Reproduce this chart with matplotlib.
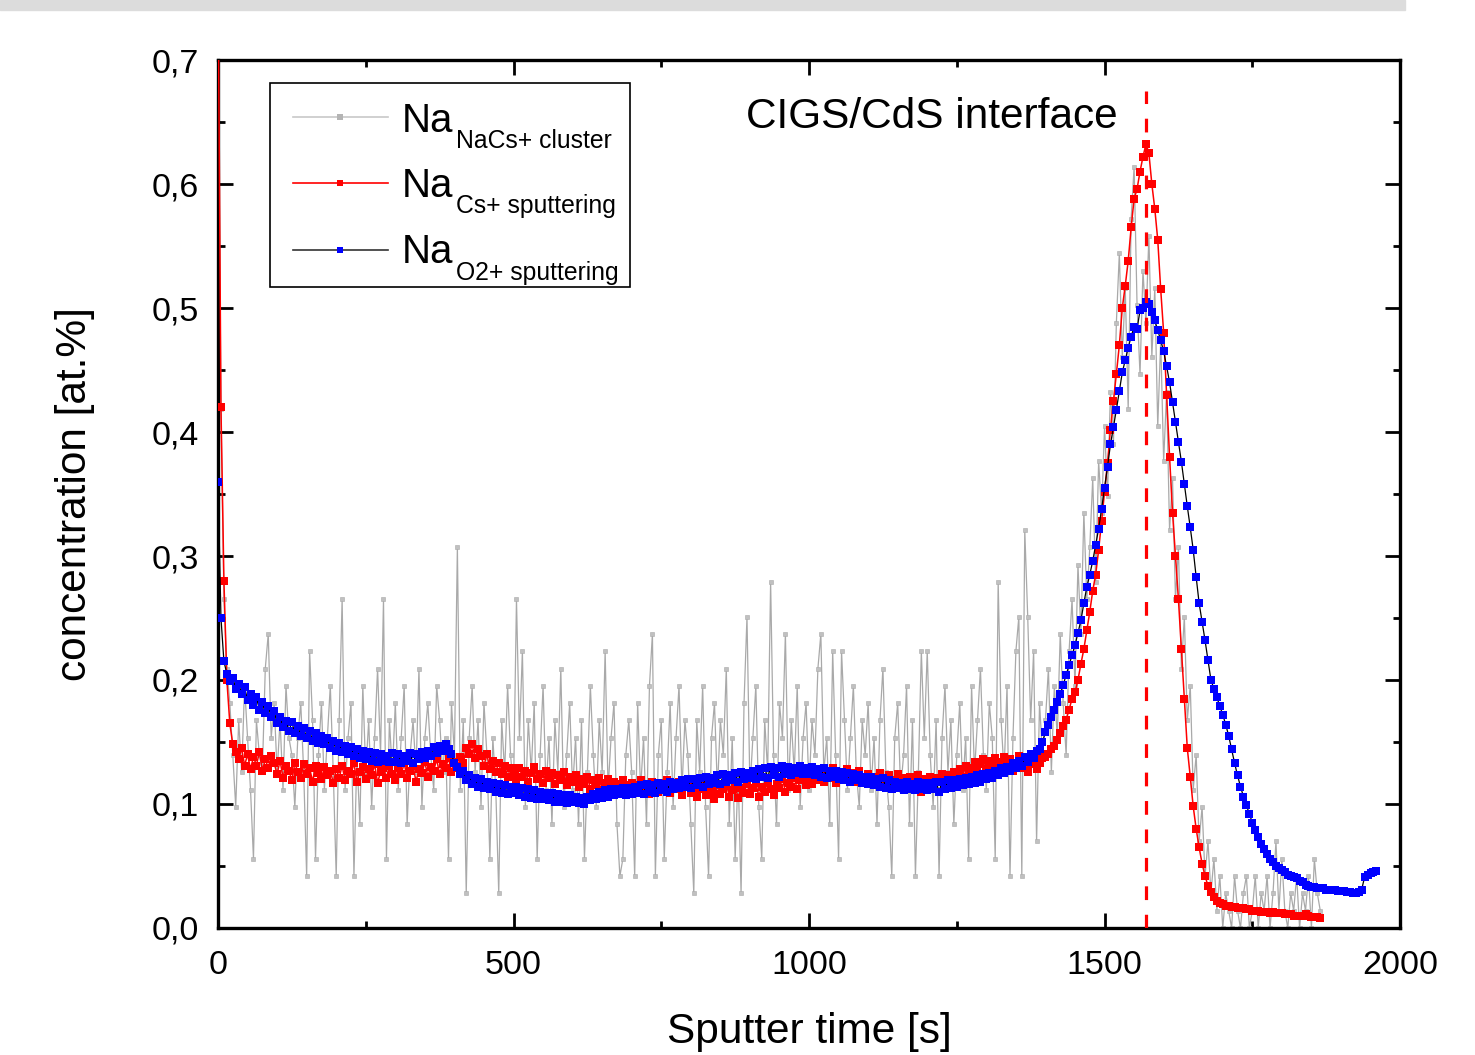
import numpy as np
import matplotlib
matplotlib.use("Agg")
import matplotlib.pyplot as plt
from matplotlib.patches import Rectangle
from matplotlib.ticker import MultipleLocator, FuncFormatter

plt.rcParams['font.family'] = ['Liberation Sans', 'DejaVu Sans']

# sampling grid (s)
step = 5
gray_time = np.arange(0, 1866, step)
red_time = np.arange(0, 1866, step)
blue_time = np.arange(0, 1961, step)

# Na from NaCs+ clusters, quantised levels (1 level = 0.01395 at.%)
level = 0.01395
gray_levels = [
    52, 30, 19, 15, 13, 10, 7, 12, 9, 14, 11, 8, 4, 12, 10, 9, 15, 17, 11, 13,
    9, 12, 8, 14, 11, 10, 7, 11, 13, 9, 3, 16, 12, 4, 10, 13, 8, 11, 14, 9,
    3, 12, 19, 8, 11, 13, 3, 10, 6, 14, 9, 12, 7, 11, 15, 10, 19, 4, 12, 9,
    13, 8, 11, 14, 6, 10, 12, 9, 15, 7, 11, 13, 10, 8, 14, 12, 9, 11, 4, 13,
    10, 22, 8, 12, 2, 11, 14, 9, 12, 7, 13, 10, 4, 11, 8, 2, 12, 9, 14, 10,
    8, 19, 11, 16, 7, 12, 9, 13, 4, 10, 14, 8, 11, 6, 12, 9, 15, 7, 10, 13,
    8, 11, 6, 12, 4, 9, 14, 10, 7, 12, 9, 16, 8, 11, 13, 6, 3, 4, 10, 12,
    9, 3, 13, 8, 11, 6, 14, 17, 3, 10, 12, 4, 9, 13, 7, 11, 14, 8, 12, 10,
    6, 2, 12, 9, 14, 7, 3, 11, 13, 8, 12, 10, 15, 6, 11, 4, 9, 2, 13, 18,
    8, 11, 14, 7, 4, 12, 9, 20, 10, 6, 13, 11, 17, 8, 12, 9, 14, 7, 11, 13,
    8, 12, 10, 15, 17, 9, 11, 6, 16, 10, 4, 16, 12, 8, 11, 14, 9, 7, 12, 10,
    13, 8, 11, 6, 12, 15, 9, 7, 3, 11, 13, 8, 10, 14, 6, 12, 3, 9, 16, 11,
    16, 10, 7, 12, 3, 11, 14, 9, 12, 6, 10, 13, 8, 11, 4, 14, 9, 12, 15, 10,
    8, 13, 11, 4, 20, 12, 9, 14, 3, 11, 16, 18, 3, 23, 18, 12, 16, 5, 13, 10,
    12, 15, 9, 14, 11, 17, 13, 10, 16, 19, 14, 21, 17, 24, 19, 22, 26, 20, 27, 24,
    29, 25, 31, 28, 35, 39, 33, 37, 30, 41, 44, 36, 32, 38, 35, 40, 33, 37, 29, 34,
    27, 31, 23, 26, 19, 22, 15, 18, 12, 14, 8, 10, 5, 7, 3, 5, 2, 4, 1, 3,
    0, 2, 1, 0, 3, 1, 0, 2, 3, 0, 1, 3, 0, 2, 1, 3, 0, 2, 5, 1,
    4, 1, 0, 2, 1, 3, 0, 2, 1, 3, 0, 4, 2, 1,
]

# Na from Cs+ sputtering (x 0.001 at.%)
red_milli = [
    780, 420, 280, 200, 165, 148, 142, 136, 145, 131, 140, 128, 138, 131, 142, 127, 136, 129, 139, 133,
    124, 135, 121, 131, 127, 119, 133, 126, 121, 132, 124, 129, 118, 131, 125, 120, 130, 123, 127, 117,
    128, 121, 131, 119, 127, 124, 133, 118, 126, 130, 120, 128, 123, 132, 117, 126, 129, 121, 131, 124,
    119, 129, 124, 133, 121, 127, 131, 118, 128, 125, 134, 122, 130, 127, 136, 124, 132, 129, 137, 126,
    134, 129, 138, 133, 145, 140, 148, 137, 144, 139, 131, 140, 128, 135, 126, 133, 124, 131, 122, 129,
    126, 119, 129, 122, 127, 118, 125, 130, 120, 124, 117, 127, 121, 125, 116, 123, 119, 126, 115, 122,
    118, 123, 114, 120, 116, 122, 112, 119, 115, 121, 111, 117, 120, 113, 118, 110, 116, 119, 111, 115,
    117, 110, 115, 119, 111, 116, 108, 118, 113, 110, 117, 112, 119, 109, 115, 112, 118, 107, 114, 116,
    109, 114, 106, 112, 116, 107, 113, 110, 104, 115, 108, 112, 117, 106, 111, 114, 105, 113, 109, 116,
    108, 113, 117, 106, 114, 110, 118, 112, 107, 116, 113, 120, 110, 117, 114, 121, 112, 119, 123, 115,
    121, 116, 124, 119, 127, 118, 125, 121, 129, 117, 126, 122, 119, 128, 120, 125, 118, 127, 122, 120,
    124, 118, 122, 116, 125, 120, 114, 123, 119, 115, 124, 117, 121, 113, 122, 118, 116, 123, 110, 120,
    117, 122, 115, 121, 118, 124, 116, 123, 120, 126, 119, 128, 122, 131, 125, 129, 134, 127, 132, 136,
    128, 135, 131, 137, 129, 134, 138, 130, 136, 127, 133, 139, 129, 134, 126, 132, 135, 128, 133, 137,
    138, 140, 144, 147, 152, 157, 163, 168, 176, 185, 190, 200, 213, 225, 240, 255, 272, 285, 305, 328,
    352, 375, 402, 425, 447, 470, 500, 518, 538, 565, 588, 596, 610, 622, 632, 625, 600, 580, 555, 515,
    480, 430, 380, 335, 300, 265, 225, 185, 145, 122, 98, 80, 65, 52, 42, 34, 29, 25, 22, 20,
    19, 18, 18, 17, 17, 16, 16, 16, 15, 15, 14, 14, 14, 13, 13, 13, 12, 13, 12, 12,
    12, 11, 11, 11, 10, 10, 10, 10, 11, 10, 9, 9, 9, 8,
]

# Na from O2+ sputtering (x 0.001 at.%)
blue_milli = [
    360, 250, 215, 205, 199, 202, 193, 197, 189, 194, 184, 189, 180, 186, 176, 182, 173, 179, 170, 175,
    165, 170, 162, 167, 159, 166, 157, 163, 155, 161, 153, 159, 151, 157, 149, 155, 148, 153, 145, 151,
    143, 149, 142, 147, 140, 146, 139, 144, 137, 143, 136, 142, 135, 141, 134, 140, 135, 139, 134, 141,
    134, 140, 133, 139, 135, 141, 133, 140, 136, 142, 137, 143, 139, 146, 141, 147, 143, 148, 144, 140,
    133, 130, 124, 127, 119, 123, 116, 121, 114, 120, 113, 118, 112, 117, 110, 116, 109, 115, 108, 114,
    109, 114, 107, 113, 106, 112, 105, 111, 104, 110, 104, 109, 103, 109, 102, 108, 102, 107, 101, 107,
    102, 106, 101, 105, 100, 106, 103, 108, 104, 110, 105, 111, 106, 112, 107, 112, 108, 113, 107, 113,
    108, 114, 109, 115, 108, 116, 110, 115, 109, 117, 111, 116, 110, 118, 112, 117, 113, 119, 114, 120,
    113, 120, 115, 121, 114, 122, 116, 121, 117, 123, 116, 124, 118, 123, 119, 125, 118, 126, 120, 125,
    121, 127, 120, 128, 122, 129, 121, 130, 123, 129, 122, 131, 124, 130, 123, 129, 125, 131, 124, 129,
    124, 130, 123, 128, 122, 129, 121, 127, 122, 127, 120, 126, 119, 125, 118, 124, 119, 123, 117, 122,
    116, 122, 115, 120, 114, 121, 113, 119, 112, 118, 113, 117, 111, 118, 112, 116, 111, 118, 112, 117,
    111, 117, 112, 118, 110, 118, 112, 119, 113, 119, 114, 120, 115, 121, 116, 122, 117, 123, 118, 124,
    120, 125, 121, 127, 123, 129, 125, 130, 127, 133, 129, 135, 131, 138, 134, 140, 137, 143, 144, 150,
    158, 164, 170, 176, 182, 189, 196, 204, 212, 220, 228, 238, 248, 262, 275, 285, 296, 309, 322, 338,
    355, 372, 390, 404, 418, 433, 448, 458, 468, 477, 485, 483, 498, 500, 505, 503, 497, 490, 482, 474,
    465, 453, 440, 424, 408, 392, 376, 358, 340, 323, 305, 283, 262, 247, 232, 216, 200, 193, 186, 179,
    172, 164, 155, 144, 133, 123, 114, 106, 99, 92, 85, 79, 73, 68, 64, 60, 56, 53, 50, 48,
    47, 45, 43, 42, 41, 40, 38, 37, 35, 34, 33, 33, 32, 32, 32, 31, 31, 31, 31, 30,
    30, 30, 29, 29, 28, 28, 29, 31, 41, 43, 44, 45, 46,
]

interface_time = 1570
interface_top = 0.675

gray = np.array(gray_levels) * level
red = np.array(red_milli) / 1000.0
blue = np.array(blue_milli) / 1000.0

fig = plt.figure(figsize=(14.75, 10.55), dpi=100)
ax = fig.add_axes([0.1478, 0.1204, 0.8014, 0.8227])

# light grey band along the top of the image
fig.patches.append(Rectangle((0, 1 - 10 / 1055), 1405 / 1475, 10 / 1055,
                             transform=fig.transFigure, color="#dcdcdc", zorder=0))

ax.plot(gray_time, gray, "-", color="#a9a9a9", lw=0.9, marker="s", ms=3.0,
        mfc="#c0c0c0", mec="#a8a8a8", mew=0.4, zorder=2)
ax.plot(red_time, red, "-", color="red", lw=1.1, marker="s", ms=5.2,
        mfc="red", mec="red", mew=0, zorder=3)
ax.plot(blue_time, blue, "-", color="black", lw=0.9, marker="s", ms=5.2,
        mfc="blue", mec="blue", mew=0, zorder=4)

ax.plot([interface_time, interface_time], [0, interface_top], color="red",
        lw=2.3, dashes=(4.3, 4.6), zorder=5)

ax.text(1208, 0.654, "CIGS/CdS interface", fontsize=30.5, ha="center", va="center")

ax.set_xlim(0, 2000)
ax.set_ylim(0, 0.7)
ax.xaxis.set_major_locator(MultipleLocator(500))
ax.xaxis.set_minor_locator(MultipleLocator(250))
ax.yaxis.set_major_locator(MultipleLocator(0.1))
ax.yaxis.set_minor_locator(MultipleLocator(0.05))
ax.yaxis.set_major_formatter(FuncFormatter(lambda v, p: f"{v:.1f}".replace(".", ",")))

ax.tick_params(which="both", direction="in", top=True, right=True, width=2.0)
ax.tick_params(which="major", length=10.8)
ax.tick_params(which="minor", length=5)
ax.tick_params(axis="x", labelsize=24.5, pad=16)
ax.tick_params(axis="y", labelsize=24.5, pad=14)
for s in ax.spines.values():
    s.set_linewidth(2.4)

ax.set_xlabel("Sputter time [s]", fontsize=30.5)
ax.set_ylabel("concentration [at.%]", fontsize=30.5)
ax.xaxis.set_label_coords(0.5, -0.097)
ax.yaxis.set_label_coords(-0.104, 0.5)

# legend, drawn by hand so the subscripts sit as in the original
ax.add_patch(Rectangle((0.044, 0.7385), 0.3046, 0.235, transform=ax.transAxes,
                       fill=True, facecolor="white", edgecolor="black", lw=1.2, zorder=6))
legend_rows = [
    ("NaCs+ cluster", "#c8c8c8", "#b4b4b4"),
    ("Cs+ sputtering", "red", "red"),
    ("O2+ sputtering", "#333333", "blue"),
]
line_y = [0.9343, 0.8583, 0.7811]
na_y = [0.917, 0.8422, 0.7661]
sub_y = [0.8986, 0.8237, 0.7465]
for (sub, lc, mc), ly, ny, sy in zip(legend_rows, line_y, na_y, sub_y):
    ax.plot([0.0635, 0.1438], [ly, ly], color=lc, lw=1.2, transform=ax.transAxes,
            zorder=7, clip_on=False)
    ax.plot([0.1036], [ly], "s", color=mc, ms=4.4, mew=0, transform=ax.transAxes,
            zorder=8, clip_on=False)
    ax.text(0.1557, ny, "Na", fontsize=29, va="baseline", ha="left",
            transform=ax.transAxes, zorder=8)
    ax.text(0.2014, sy, sub, fontsize=17.8, va="baseline", ha="left",
            transform=ax.transAxes, zorder=8)

fig.savefig("out.png", dpi=100)
